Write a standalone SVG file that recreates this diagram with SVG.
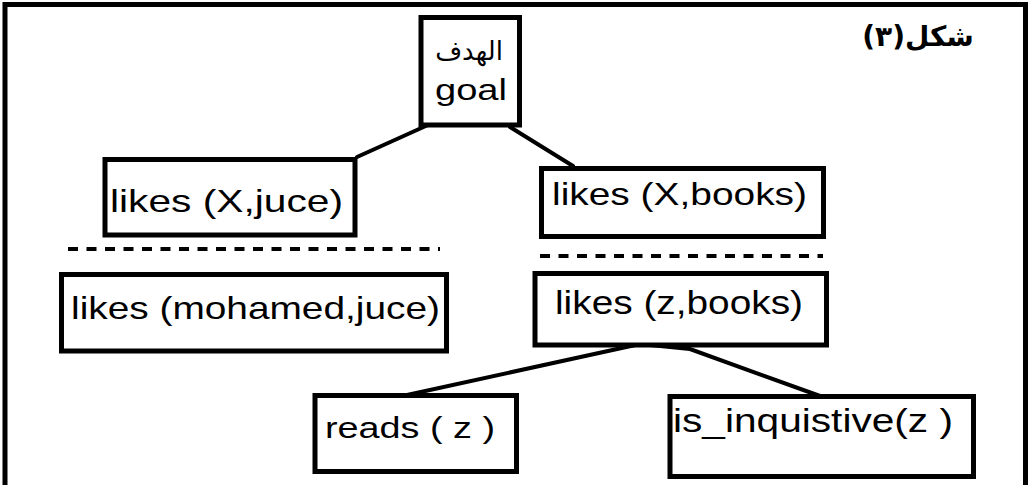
<svg xmlns="http://www.w3.org/2000/svg" width="1030" height="485" viewBox="0 0 1030 485">
<style>
.box{fill:#fff;stroke:#000;stroke-width:5}
.t{font-family:"Liberation Sans",Arial,sans-serif;fill:#000}
.ar{font-family:"DejaVu Sans",sans-serif;fill:#000}
.ln{stroke:#000;stroke-width:4;fill:none;stroke-linecap:round}
.dash{stroke:#000;stroke-width:4;stroke-dasharray:10 8.5;fill:none}
</style>
<rect x="0" y="0" width="1030" height="485" fill="#fff"/>
<path d="M5,490 V4.5 H1025.5 V490" fill="none" stroke="#000" stroke-width="5"/>
<text class="ar" x="918" y="46" font-size="28" font-weight="bold" text-anchor="middle" direction="rtl">شكل(٣)</text>
<g id="connectors">
<path class="ln" d="M357,157 L428,125"/>
<path class="ln" d="M510,127 L573,166"/>
<path class="ln" d="M640,344 L407,395"/>
<path class="ln" d="M640,344 L690,349 L820,396"/>
<path class="dash" d="M68,249 H440"/>
<path class="dash" d="M540,256 H823"/>
</g>
<g id="goal">
<rect class="box" x="421" y="17.5" width="98.5" height="107.5"/>
<text class="ar" x="469" y="60" font-size="26" text-anchor="middle" direction="rtl">الهدف</text>
<text class="t" x="435" y="100" font-size="30" textLength="72" lengthAdjust="spacingAndGlyphs">goal</text>
</g>
<g id="likes-x-juce">
<rect class="box" x="105" y="159.5" width="250" height="75.5"/>
<text class="t" x="110" y="212" font-size="32" textLength="233" lengthAdjust="spacingAndGlyphs">likes (X,juce)</text>
</g>
<g id="likes-mohamed-juce">
<rect class="box" x="61.5" y="274.5" width="385" height="76.5"/>
<text class="t" x="71" y="319" font-size="32" textLength="369" lengthAdjust="spacingAndGlyphs">likes (mohamed,juce)</text>
</g>
<g id="likes-x-books">
<rect class="box" x="541.5" y="168.5" width="282" height="68"/>
<text class="t" x="552" y="205" font-size="32" textLength="255" lengthAdjust="spacingAndGlyphs">likes (X,books)</text>
</g>
<g id="likes-z-books">
<rect class="box" x="535" y="273.5" width="291.5" height="71.5"/>
<text class="t" x="555" y="314" font-size="33" textLength="248" lengthAdjust="spacingAndGlyphs">likes (z,books)</text>
</g>
<g id="reads">
<rect class="box" x="315" y="395.5" width="201.5" height="76"/>
<text class="t" x="325" y="438" font-size="29" textLength="170" lengthAdjust="spacingAndGlyphs">reads ( z )</text>
</g>
<g id="is-inquistive">
<rect class="box" x="670" y="396.5" width="303.5" height="80"/>
<text class="t" x="673" y="432" font-size="33" textLength="280" lengthAdjust="spacingAndGlyphs">is_inquistive(z )</text>
</g>
</svg>
